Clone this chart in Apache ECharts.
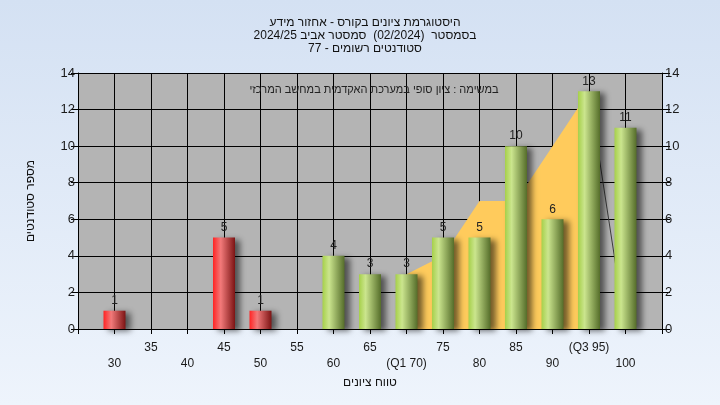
<!DOCTYPE html>
<html>
<head>
<meta charset="utf-8">
<script src="https://cdn.jsdelivr.net/npm/echarts@6/dist/echarts.min.js"></script>
<style>
  html, body { margin: 0; padding: 0; }
  #chart { width: 720px; height: 405px; background: linear-gradient(#d4e1f3, #eef4fc); }
</style>
</head>
<body>
<div id="chart"></div>
<script>
// Histogram data
const binScores = [30, 45, 50, 60, 65, 70, 75, 80, 85, 90, 95, 100];
const binCounts = [1, 5, 1, 4, 3, 3, 5, 5, 10, 6, 13, 11];
const failBelow = 55;

// Yellow area and the drop line after it
const areaScores = [70, 75, 80, 85, 90, 95];
const areaValues = [3, 4, 7, 7, 10, 13];
const dropScores = [95, 100];
const dropValues = [13, 0];

// x tick labels
const xTicks = [30, 35, 40, 45, 50, 55, 60, 65, 70, 75, 80, 85, 90, 95, 100];
const xTickText = ['30', '35', '40', '45', '50', '55', '60', '65', '(Q1 70)', '75', '80', '85', '90', '(Q3 95)', '100'];

const titleLines = [
  'היסטוגרמת ציונים בקורס - אחזור מידע',
  'בסמסטר  (02/2024)  סמסטר אביב 2024/25',
  'סטודנטים רשומים - 77'
];
const noteText = 'במשימה : ציון סופי במערכת האקדמית במחשב המרכזי';
const xName = 'טווח ציונים';
const yName = 'מספר סטודנטים';

const font = '"Liberation Sans", "DejaVu Sans", Arial, sans-serif';

// keep hebrew right-to-left inside the canvas
const rtl = s => '\u202B' + s + '\u202C';

const barGradient = (fail) => new echarts.graphic.LinearGradient(0, 0, 1, 0, fail ? [
  {offset: 0, color: '#ff2424'},
  {offset: 0.35, color: '#f27a7a'},
  {offset: 1, color: '#7c1414'}
] : [
  {offset: 0, color: '#a6d04a'},
  {offset: 0.3, color: '#cbe58e'},
  {offset: 1, color: '#556d2a'}
]);

const barData = binScores.map((s, i) => ({
  value: [s, binCounts[i]],
  itemStyle: {color: barGradient(s < failBelow)}
}));

const chart = echarts.init(document.getElementById('chart'));

const yAxisBase = {
  type: 'value',
  min: 0,
  max: 14,
  interval: 2,
  axisLine: {show: true, lineStyle: {color: '#000', width: 1}},
  axisTick: {show: true, length: 7, lineStyle: {color: '#000'}},
  axisLabel: {color: '#1a1a1a', fontSize: 13, fontFamily: font, margin: 3}
};

chart.setOption({
  animation: false,
  textStyle: {fontFamily: font},
  title: [
    {
      text: titleLines.map(rtl).join('\n'),
      left: 360,
      top: 11,
      textAlign: 'center',
      textStyle: {fontSize: 12, fontWeight: 'normal', color: '#111', lineHeight: 13, fontFamily: font}
    },
    {
      text: rtl(noteText),
      left: 369,
      top: 79,
      textAlign: 'center',
      textStyle: {fontSize: 11, fontWeight: 'normal', color: '#222', fontFamily: font}
    }
  ],
  grid: {
    left: 78,
    right: 58,
    top: 73,
    bottom: 76,
    show: true,
    backgroundColor: '#b4b4b4',
    borderWidth: 0
  },
  xAxis: {
    type: 'value',
    min: 25,
    max: 105,
    interval: 5,
    name: rtl(xName),
    nameLocation: 'middle',
    nameGap: 45,
    nameTextStyle: {color: '#111', fontSize: 12, fontFamily: font},
    axisLine: {show: true, lineStyle: {color: '#000', width: 1}},
    axisTick: {show: true, length: 5, lineStyle: {color: '#000'}},
    splitLine: {show: true, lineStyle: {color: '#000', width: 1}},
    axisLabel: {
      color: '#1a1a1a',
      fontSize: 12,
      fontFamily: font,
      margin: 11,
      lineHeight: 16,
      showMinLabel: true,
      showMaxLabel: true,
      formatter: v => {
        const i = xTicks.indexOf(v);
        if (i < 0) return '';
        return v % 10 === 0 ? '\n' + xTickText[i] : xTickText[i];
      }
    }
  },
  yAxis: [
    Object.assign({}, yAxisBase, {
      position: 'left',
      name: rtl(yName),
      nameLocation: 'middle',
      nameGap: 41,
      nameTextStyle: {color: '#111', fontSize: 12, fontFamily: font},
      splitLine: {show: true, lineStyle: {color: '#000', width: 1}}
    }),
    Object.assign({}, yAxisBase, {
      position: 'right',
      axisTick: {show: true, length: 8, lineStyle: {color: '#000'}},
      splitLine: {show: false}
    })
  ],
  series: [
    {
      type: 'line',
      data: areaScores.map((s, i) => [s, areaValues[i]]),
      symbol: 'none',
      lineStyle: {width: 0},
      areaStyle: {color: '#ffcb5c', opacity: 1},
      z: 1
    },
    {
      type: 'line',
      data: dropScores.map((s, i) => [s, dropValues[i]]),
      symbol: 'none',
      lineStyle: {color: '#3c3c3c', width: 1},
      z: 1
    },
    {
      type: 'bar',
      data: barData,
      barWidth: 22,
      itemStyle: {
        shadowColor: 'rgba(0,0,0,0.55)',
        shadowBlur: 6,
        shadowOffsetX: 5,
        shadowOffsetY: 2
      },
      label: {
        show: true,
        position: 'top',
        distance: 4,
        color: '#222',
        fontSize: 12,
        fontFamily: font,
        formatter: p => p.value[1]
      },
      z: 3
    }
  ]
});
</script>
</body>
</html>
